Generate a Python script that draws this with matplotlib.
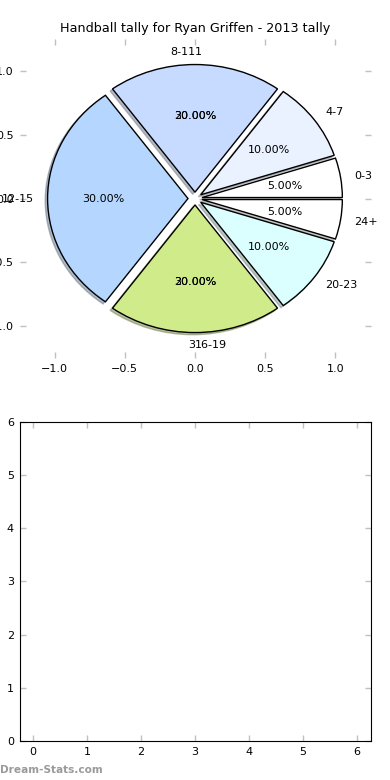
import matplotlib
matplotlib.use('Agg')
import math
import matplotlib.pyplot as plt

# ---- data ----
categories = ['0-3', '4-7', '8-11', '12-15', '16-19', '20-23', '24+']
tally = [1, 2, 4, 6, 4, 2, 1]
colors = ['#FFFFFF', '#EAF1FF', '#C6DBFF', '#B5D7FF', '#D0EB8A', '#DBFFFF', '#FFFFFF']
title = 'Handball tally for Ryan Griffen - 2013 tally'
pie_ticks = [-1.0, -0.5, 0.0, 0.5, 1.0]
empty_ticks = [0, 1, 2, 3, 4, 5, 6]
# stray overlapping texts visible in the source image
ghost_labels = {'8-11': '1', '16-19': '3'}
ghost_pcts = {'8-11': '30.00%', '16-19': '30.00%'}
watermark = 'Dream-Stats.com'

plt.rcParams['font.family'] = ['DejaVu Sans']
fig = plt.figure(figsize=(3.9, 7.8), dpi=100)
fig.subplots_adjust(left=0.05, right=0.95, bottom=0.05, top=0.95, hspace=0.2)
ax1 = fig.add_subplot(2, 1, 1)
ax2 = fig.add_subplot(2, 1, 2)

explode = [0.05] * len(tally)
wedges, texts, autotexts = ax1.pie(
    tally, labels=categories, colors=colors, explode=explode,
    autopct='%.2f%%', shadow={'ox': -0.012, 'oy': -0.012, 'shade': 0.45},
    startangle=0, counterclock=True,
    labeldistance=1.1, pctdistance=0.6,
    wedgeprops=dict(edgecolor='black', linewidth=1.0),
    textprops=dict(fontsize=8), frame=True)

ax1.set_aspect('auto')
ax1.set_xlim(-1.25, 1.25)
ax1.set_ylim(-1.25, 1.25)
ax1.set_xticks(pie_ticks)
ax1.set_yticks(pie_ticks)
for sp in ax1.spines.values():
    sp.set_visible(False)
ax1.set_title(title, fontsize=9.2, pad=5)

for i, cat in enumerate(categories):
    w = wedges[i]
    thm = math.radians((w.theta1 + w.theta2) / 2)
    cx, cy = w.center
    if cat in ghost_labels:
        xt = cx + 1.1 * math.cos(thm)
        yt = cy + 1.1 * math.sin(thm)
        if cat == '8-11':
            texts[i].set_ha('right')
            ax1.text(xt, yt, ghost_labels[cat], ha='left', va='center', fontsize=8)
        else:
            texts[i].set_ha('left')
            ax1.text(xt, yt, ghost_labels[cat], ha='right', va='center', fontsize=8)
    if cat in ghost_pcts:
        xp = cx + 0.6 * math.cos(thm)
        yp = cy + 0.6 * math.sin(thm)
        ax1.text(xp, yp, ghost_pcts[cat], ha='center', va='center', fontsize=8)

ax2.set_xlim(-0.25, 6.25)
ax2.set_ylim(0, 6)
ax2.set_xticks(empty_ticks)
ax2.set_yticks(empty_ticks)

for ax in (ax1, ax2):
    ax.tick_params(direction='in', length=4, width=1, color='#c0c0c0',
                   top=True, right=True, labelsize=8, pad=4)

fig.text(0.0, 0.006, watermark, color='#9a9a9a', fontsize=7.6,
         fontweight='bold', ha='left', va='bottom')

fig.savefig('out.png', dpi=100)
